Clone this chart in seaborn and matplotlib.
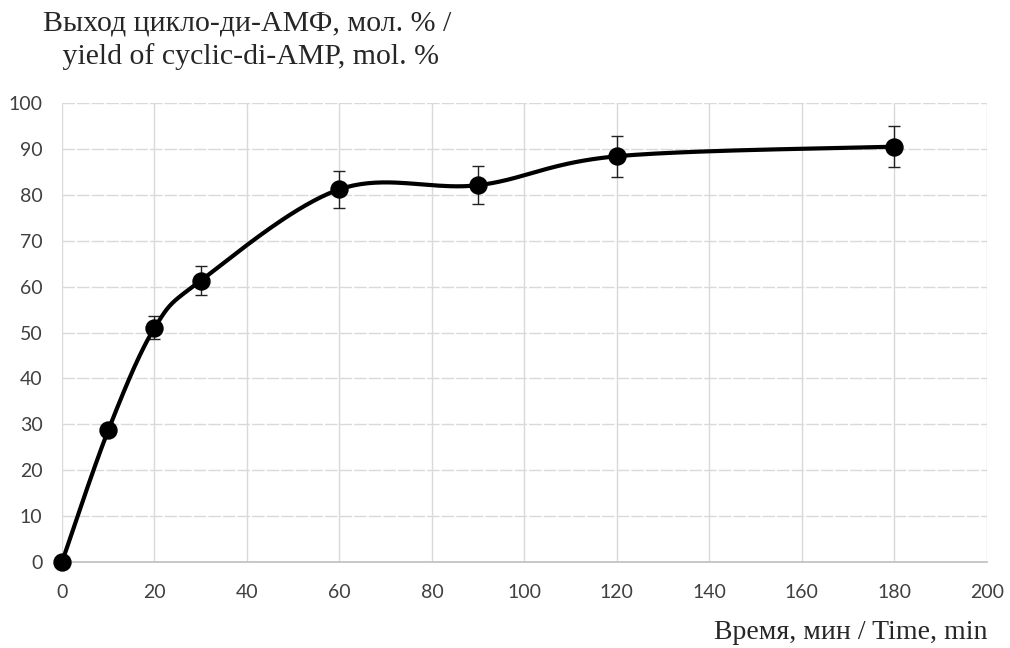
import numpy as np
import pandas as pd
import matplotlib
matplotlib.use("Agg")
import matplotlib.pyplot as plt
from matplotlib import font_manager
import seaborn as sns

sns.set_theme(style="whitegrid")

time_min = [0, 10, 20, 30, 60, 90, 120, 180]
yield_pct = [0, 28.7, 51.0, 61.3, 81.2, 82.1, 88.4, 90.5]
yield_err = [0.5, 1.0, 2.5, 3.1, 4.1, 4.1, 4.5, 4.5]


def smooth_curve(x, y, sx=925 / 200, sy=459 / 100, n=40):
    # Excel-style smoothed line: Catmull-Rom as Bezier, done in screen scale
    p = np.column_stack([np.asarray(x) * sx, np.asarray(y) * sy])
    pts = []
    for i in range(len(p) - 1):
        p0 = p[i - 1] if i > 0 else p[i]
        p3 = p[i + 2] if i + 2 < len(p) else p[i + 1]
        c1 = p[i] + (p[i + 1] - p0) / 6
        c2 = p[i + 1] - (p3 - p[i]) / 6
        t = np.linspace(0, 1, n)[:, None]
        seg = ((1 - t) ** 3) * p[i] + 3 * ((1 - t) ** 2) * t * c1 \
            + 3 * (1 - t) * t ** 2 * c2 + t ** 3 * p[i + 1]
        pts.append(seg if i == 0 else seg[1:])
    pts = np.vstack(pts)
    return pts[:, 0] / sx, pts[:, 1] / sy


names = {f.name for f in font_manager.fontManager.ttflist}
tick_font = "Liberation Sans Narrow" if "Liberation Sans Narrow" in names else "Lato"

df = pd.DataFrame({"t": time_min, "y": yield_pct, "err": yield_err})
cx, cy = smooth_curve(df["t"], df["y"])
curve = pd.DataFrame({"t": cx, "y": cy})

fig = plt.figure(figsize=(10.1, 6.48), dpi=100)
ax = fig.add_axes([0.0614, 0.1327, 0.9156, 0.7083])

sns.lineplot(data=curve, x="t", y="y", ax=ax, color="black", lw=3, sort=False,
             estimator=None, zorder=3)
ax.errorbar(df["t"], df["y"], yerr=df["err"], fmt="none", ecolor="#222222",
            elinewidth=1, capsize=4, capthick=1, zorder=2)
sns.scatterplot(data=df, x="t", y="y", ax=ax, color="black", s=150,
                edgecolor="black", zorder=4, clip_on=False)

ax.set_xlim(0, 200)
ax.set_ylim(0, 100)
ax.set_xticks(range(0, 201, 20))
ax.set_yticks(range(0, 101, 10))
ax.set_xlabel("")
ax.set_ylabel("")
ax.set_facecolor("white")
ax.grid(axis="x", color="#d9d9d9", lw=1, ls="-")
ax.grid(axis="y", color="#d9d9d9", lw=1, ls=(0, (9, 1.5)))
for s in ["top", "right", "left"]:
    ax.spines[s].set_visible(False)
ax.spines["bottom"].set_visible(True)
ax.spines["bottom"].set_color("#bfbfbf")
ax.spines["bottom"].set_linewidth(1.2)
ax.tick_params(axis="both", length=0, labelsize=14, colors="#404040")
ax.tick_params(axis="x", pad=16)
ax.tick_params(axis="y", pad=14)
for lab in ax.get_xticklabels() + ax.get_yticklabels():
    lab.set_family([tick_font, "DejaVu Sans"])

fig.text(0.245, 0.984, "Выход цикло-ди-АМФ, мол. % /\n yield of cyclic-di-AMP, mol. %",
         ha="center", va="top", fontsize=21.5, family="Liberation Serif",
         color="#262626", linespacing=1.3)
fig.text(0.978, 0.005, "Время, мин / Time, min", ha="right", va="bottom",
         fontsize=20, family="Liberation Serif", color="#262626")

fig.savefig("out.png", dpi=100)
